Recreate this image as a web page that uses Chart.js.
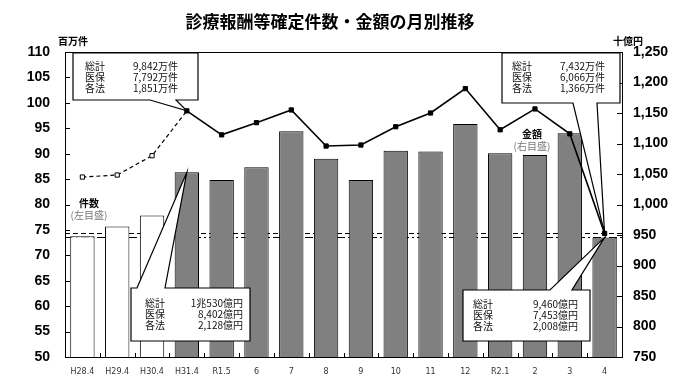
<!DOCTYPE html>
<html>
<head>
<meta charset="utf-8">
<script src="https://cdn.jsdelivr.net/npm/chart.js@4"></script>
<style>
  html, body { margin: 0; padding: 0; background: #fff; }
  #wrap { width: 680px; height: 389px; }
</style>
</head>
<body>
<div id="wrap"><canvas id="myChart" width="680" height="389"></canvas></div>
<script>
// categories (month)
const months = ['H28.4', 'H29.4', 'H30.4', 'H31.4', 'R1.5', '6', '7', '8', '9', '10', '11', '12', 'R2.1', '2', '3', '4'];
// 金額 (十億円, right axis) - bars
const amounts = [948, 964, 982, 1053, 1040, 1061, 1120, 1075, 1040, 1088, 1087, 1132, 1084, 1081, 1117, 946];
// 件数 (百万件, left axis) - line
const counts = [85.4, 85.8, 89.6, 98.42, 93.7, 96.1, 98.6, 91.5, 91.7, 95.3, 98.0, 102.8, 94.7, 98.8, 93.9, 74.32];
// number of leading months drawn as hollow / white
const oldCount = 3;

const boxFont = '10px "Noto Sans CJK JP", sans-serif';

// callout texts
const calloutTL = [['総計', '9,842万件'], ['医保', '7,792万件'], ['各法', '1,851万件']];
const calloutTR = [['総計', '7,432万件'], ['医保', '6,066万件'], ['各法', '1,366万件']];
const calloutBL = [['総計', '1兆530億円'], ['医保', '8,402億円'], ['各法', '2,128億円']];
const calloutBR = [['総計', '9,460億円'], ['医保', '7,453億円'], ['各法', '2,008億円']];

function drawCallout(ctx, box, tail, tip, rows, txt) {
    // box: [x1,y1,x2,y2], tail: {edge:'top'|'bottom', a, b}, txt: {lx, vx, y0}
    const [x1, y1, x2, y2] = box;
    ctx.save();
    ctx.beginPath();
    ctx.moveTo(x1, y1);
    if (tail.edge === 'top') {
        ctx.lineTo(tail.a, y1);
        ctx.lineTo(tip.x, tip.y);
        ctx.lineTo(tail.b, y1);
    }
    ctx.lineTo(x2, y1);
    ctx.lineTo(x2, y2);
    if (tail.edge === 'bottom') {
        ctx.lineTo(tail.b, y2);
        ctx.lineTo(tip.x, tip.y);
        ctx.lineTo(tail.a, y2);
    }
    ctx.lineTo(x1, y2);
    ctx.closePath();
    ctx.fillStyle = '#fff';
    ctx.fill();
    ctx.strokeStyle = '#000';
    ctx.lineWidth = 1.2;
    ctx.stroke();

    ctx.fillStyle = '#111';
    ctx.font = boxFont;
    ctx.textBaseline = 'middle';
    rows.forEach((r, i) => {
        const y = txt.y0 + i * 11;
        ctx.textAlign = 'left';
        ctx.fillText(r[0], txt.lx, y);
        ctx.textAlign = 'right';
        ctx.fillText(r[1], txt.vx, y);
    });
    ctx.restore();
}

const decor = {
    id: 'decor',
    beforeDatasetsDraw(chart) {
        const { ctx, chartArea: a, scales } = chart;
        const yl = scales.y, yr = scales.y1;
        ctx.save();
        // reference lines at the latest values
        ctx.strokeStyle = '#000';
        ctx.lineWidth = 1;
        ctx.setLineDash([5, 3]);
        ctx.beginPath();
        const yc = Math.round(yl.getPixelForValue(counts[counts.length - 1])) + 0.5;
        ctx.moveTo(a.left, yc); ctx.lineTo(a.right, yc); ctx.stroke();
        ctx.setLineDash([8, 3, 2, 3]);
        ctx.beginPath();
        const ya = Math.round(yr.getPixelForValue(amounts[amounts.length - 1])) + 0.5;
        ctx.moveTo(a.left, ya); ctx.lineTo(a.right, ya); ctx.stroke();
        ctx.restore();
    },
    afterDatasetsDraw(chart) {
        const { ctx, chartArea: a, scales } = chart;
        const yl = scales.y, yr = scales.y1, x = scales.x;
        ctx.save();
        // frame
        ctx.strokeStyle = '#000';
        ctx.lineWidth = 1;
        ctx.strokeRect(a.left + 0.5, a.top + 0.5, a.right - a.left, a.bottom - a.top);
        // inner ticks
        yl.ticks.forEach(t => {
            const p = Math.round(yl.getPixelForValue(t.value)) + 0.5;
            ctx.beginPath(); ctx.moveTo(a.left, p); ctx.lineTo(a.left + 5, p); ctx.stroke();
        });
        yr.ticks.forEach(t => {
            const p = Math.round(yr.getPixelForValue(t.value)) + 0.5;
            ctx.beginPath(); ctx.moveTo(a.right, p); ctx.lineTo(a.right - 5, p); ctx.stroke();
        });
        const step = (a.right - a.left) / months.length;
        for (let i = 1; i < months.length; i++) {
            const p = Math.round(a.left + step * i) + 0.5;
            ctx.beginPath(); ctx.moveTo(p, a.bottom); ctx.lineTo(p, a.bottom - 4); ctx.stroke();
        }

        // callouts
        const i0 = 3, i1 = months.length - 1;
        drawCallout(ctx, [73, 53, 198, 100], { edge: 'bottom', a: 150, b: 176 },
            { x: x.getPixelForValue(i0), y: yl.getPixelForValue(counts[i0]) }, calloutTL,
            { lx: 85, vx: 178, y0: 66 });
        drawCallout(ctx, [131, 288, 250, 341], { edge: 'top', a: 137, b: 165 },
            { x: x.getPixelForValue(i0), y: yr.getPixelForValue(amounts[i0]) }, calloutBL,
            { lx: 145, vx: 243, y0: 303 });
        drawCallout(ctx, [502, 53, 620, 103], { edge: 'bottom', a: 573, b: 597 },
            { x: x.getPixelForValue(i1), y: yl.getPixelForValue(counts[i1]) }, calloutTR,
            { lx: 512, vx: 605, y0: 66 });
        drawCallout(ctx, [463, 290, 590, 341], { edge: 'top', a: 550, b: 572 },
            { x: x.getPixelForValue(i1), y: yr.getPixelForValue(amounts[i1]) }, calloutBR,
            { lx: 473, vx: 578, y0: 304 });

        // series labels
        ctx.textAlign = 'center';
        ctx.textBaseline = 'middle';
        ctx.fillStyle = '#000';
        ctx.font = 'bold 10px "Noto Sans CJK JP", sans-serif';
        ctx.fillText('件数', 89, 203);
        ctx.fillText('金額', 532, 134);
        ctx.fillStyle = '#777';
        ctx.font = '10px "Noto Sans CJK JP", sans-serif';
        ctx.fillText('(左目盛)', 89, 215);
        ctx.fillText('(右目盛)', 532, 146);

        // title and units
        ctx.fillStyle = '#000';
        ctx.font = 'bold 17px "Noto Sans CJK JP", sans-serif';
        ctx.fillText('診療報酬等確定件数・金額の月別推移', 330, 22);
        ctx.font = 'bold 10px "Noto Sans CJK JP", sans-serif';
        ctx.fillText('百万件', 73, 41);
        ctx.fillText('十億円', 628, 41);
        ctx.restore();
    }
};

const chart = new Chart(document.getElementById('myChart'), {
    data: {
        labels: months,
        datasets: [{
            type: 'line',
            data: counts,
            yAxisID: 'y',
            order: 0,
            borderColor: '#000',
            borderWidth: 1.6,
            pointStyle: 'rect',
            pointRadius: 3,
            pointBorderWidth: 1,
            pointBorderColor: '#000',
            pointBackgroundColor: counts.map((v, i) => i < oldCount ? '#fff' : '#000'),
            segment: {
                borderDash: c => c.p1DataIndex <= oldCount ? [4, 3] : undefined,
                borderWidth: c => c.p1DataIndex <= oldCount ? 1.2 : 1.6
            }
        }, {
            type: 'bar',
            data: amounts,
            yAxisID: 'y1',
            order: 1,
            backgroundColor: amounts.map((v, i) => i < oldCount ? '#fff' : '#808080'),
            borderColor: '#000',
            borderWidth: 1,
            barPercentage: 0.7,
            categoryPercentage: 1
        }]
    },
    options: {
        responsive: false,
        animation: false,
        layout: { padding: { top: 52, left: 0, right: 0, bottom: 0 } },
        plugins: {
            legend: { display: false },
            tooltip: { enabled: false },
            title: { display: false }
        },
        scales: {
            x: {
                grid: { display: false },
                border: { display: false },
                ticks: {
                    color: '#333',
                    font: { size: 8, family: 'DejaVu Sans' },
                    padding: 2,
                    maxRotation: 0,
                    autoSkip: false
                },
                afterFit(s) { s.height = 32; }
            },
            y: {
                position: 'left',
                min: 50, max: 110,
                grid: { display: false, drawTicks: false },
                border: { display: false },
                ticks: {
                    stepSize: 5,
                    color: '#000',
                    padding: 15,
                    font: { size: 14, weight: 'bold', family: 'Liberation Sans' }
                },
                afterFit(s) { s.width = 65; }
            },
            y1: {
                position: 'right',
                min: 750, max: 1250,
                grid: { display: false, drawTicks: false },
                border: { display: false },
                ticks: {
                    stepSize: 50,
                    color: '#000',
                    padding: 11,
                    font: { size: 14, weight: 'bold', family: 'Liberation Sans' },
                    callback: v => v.toLocaleString('en-US')
                },
                afterFit(s) { s.width = 58; }
            }
        }
    },
    plugins: [decor]
});
</script>
</body>
</html>
